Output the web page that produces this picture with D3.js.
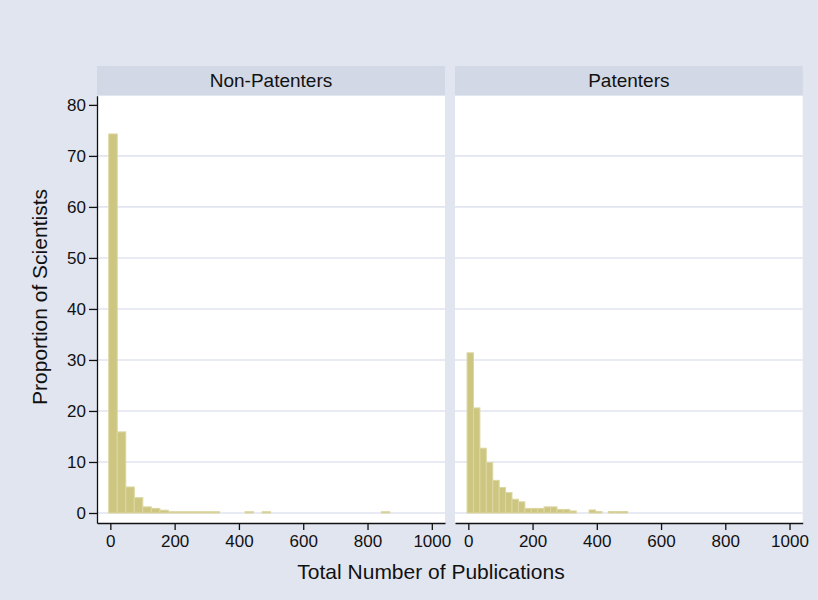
<!DOCTYPE html>
<html>
<head>
<meta charset="utf-8">
<script src="https://cdn.jsdelivr.net/npm/d3@7"></script>
<style>
  body { margin: 0; background: #e1e5f0; }
  text { font-family: "Liberation Sans", Arial, sans-serif; fill: #111; }
</style>
</head>
<body>
<div id="chart"></div>
<script>
// panel names
var panelNames = ["Non-Patenters", "Patenters"];

// histogram bins (percent of scientists per bin)
var nonPatBinStart = -5;
var nonPatBinWidth = 26.5;
var nonPatPct = [74.3, 15.9, 5.1, 3.0, 1.2, 0.9, 0.55, 0.25, 0.25, 0.25, 0.25, 0.25, 0.25,
  0, 0, 0, 0.25, 0, 0.25, 0, 0, 0, 0, 0, 0, 0, 0, 0, 0, 0, 0, 0, 0.25];

var patBinStart = -4;
var patBinWidth = 20;
var patPct = [31.4, 20.6, 12.7, 9.9, 6.4, 5.0, 4.0, 2.7, 2.2, 0.9, 0.9, 0.9, 1.2, 1.2,
  0.7, 0.7, 0.4, 0, 0, 0.6, 0.3, 0, 0.3, 0.3, 0.3];

var xTicks = [0, 200, 400, 600, 800, 1000];
var yTicks = [0, 10, 20, 30, 40, 50, 60, 70, 80];
var yGrid = [0, 10, 20, 30, 40, 50, 60, 70];

var xTitle = "Total Number of Publications";
var yTitle = "Proportion of Scientists";

var width = 818, height = 600;
var plotTop = 95.7, plotBottom = 523, headTop = 66;
var panels = [
  { name: panelNames[0], x0: 97, x1: 445, start: nonPatBinStart, w: nonPatBinWidth, vals: nonPatPct },
  { name: panelNames[1], x0: 455, x1: 802.7, start: patBinStart, w: patBinWidth, vals: patPct }
];

var svg = d3.select("#chart").append("svg")
  .attr("width", width).attr("height", height);

svg.append("rect").attr("width", width).attr("height", height).attr("fill", "#e1e5f0");

var y = d3.scaleLinear().domain([-1.96, 81.8]).range([plotBottom, plotTop]);

panels.forEach(function(p, i) {
  var x = d3.scaleLinear().domain([-41.5, 1041]).range([p.x0, p.x1]);
  var g = svg.append("g");

  // header strip
  g.append("rect")
    .attr("x", p.x0).attr("y", headTop)
    .attr("width", p.x1 - p.x0).attr("height", plotTop - headTop)
    .attr("fill", "#d2d8e5");
  g.append("text")
    .attr("x", (p.x0 + p.x1) / 2).attr("y", 87)
    .attr("text-anchor", "middle")
    .style("font-size", "19px")
    .text(p.name);

  // plot region
  g.append("rect")
    .attr("x", p.x0).attr("y", plotTop)
    .attr("width", p.x1 - p.x0).attr("height", plotBottom - plotTop)
    .attr("fill", "#fff");

  g.selectAll(".grid").data(yGrid).enter().append("line")
    .attr("x1", p.x0).attr("x2", p.x1)
    .attr("y1", (d) => y(d)).attr("y2", (d) => y(d))
    .attr("stroke", "#e1e5f0").attr("stroke-width", 1.6);

  var bins = p.vals.map(function(v, k) {
    return { lo: p.start + k * p.w, hi: p.start + (k + 1) * p.w, v: v };
  }).filter((d) => d.v > 0);

  g.selectAll(".bar").data(bins).enter().append("rect")
    .attr("x", (d) => x(d.lo))
    .attr("width", (d) => x(d.hi) - x(d.lo))
    .attr("y", (d) => y(d.v))
    .attr("height", (d) => y(0) - y(d.v))
    .attr("fill", "#cdc681")
    .attr("stroke", "#dcd6a2")
    .attr("stroke-width", 1);

  // x axis
  var xa = g.append("g")
    .attr("transform", "translate(0," + plotBottom + ")")
    .call(d3.axisBottom(x).tickValues(xTicks).tickFormat(d3.format("d"))
      .tickSize(7).tickSizeOuter(0).tickPadding(5));
  xa.selectAll("text").style("font-size", "17px");

  if (i === 0) {
    var ya = g.append("g")
      .attr("transform", "translate(" + p.x0 + ",0)")
      .call(d3.axisLeft(y).tickValues(yTicks).tickSize(8).tickSizeOuter(0).tickPadding(3));
    ya.selectAll("text").style("font-size", "17px");
  }
});

svg.selectAll(".domain, .tick line").attr("stroke", "#111").attr("stroke-width", 1.3);
svg.selectAll(".tick text").attr("fill", "#111");

svg.append("text")
  .attr("x", 431).attr("y", 579)
  .attr("text-anchor", "middle")
  .style("font-size", "21px")
  .text(xTitle);

svg.append("text")
  .attr("transform", "translate(47,297) rotate(-90)")
  .attr("text-anchor", "middle")
  .style("font-size", "21px")
  .text(yTitle);
</script>
</body>
</html>
